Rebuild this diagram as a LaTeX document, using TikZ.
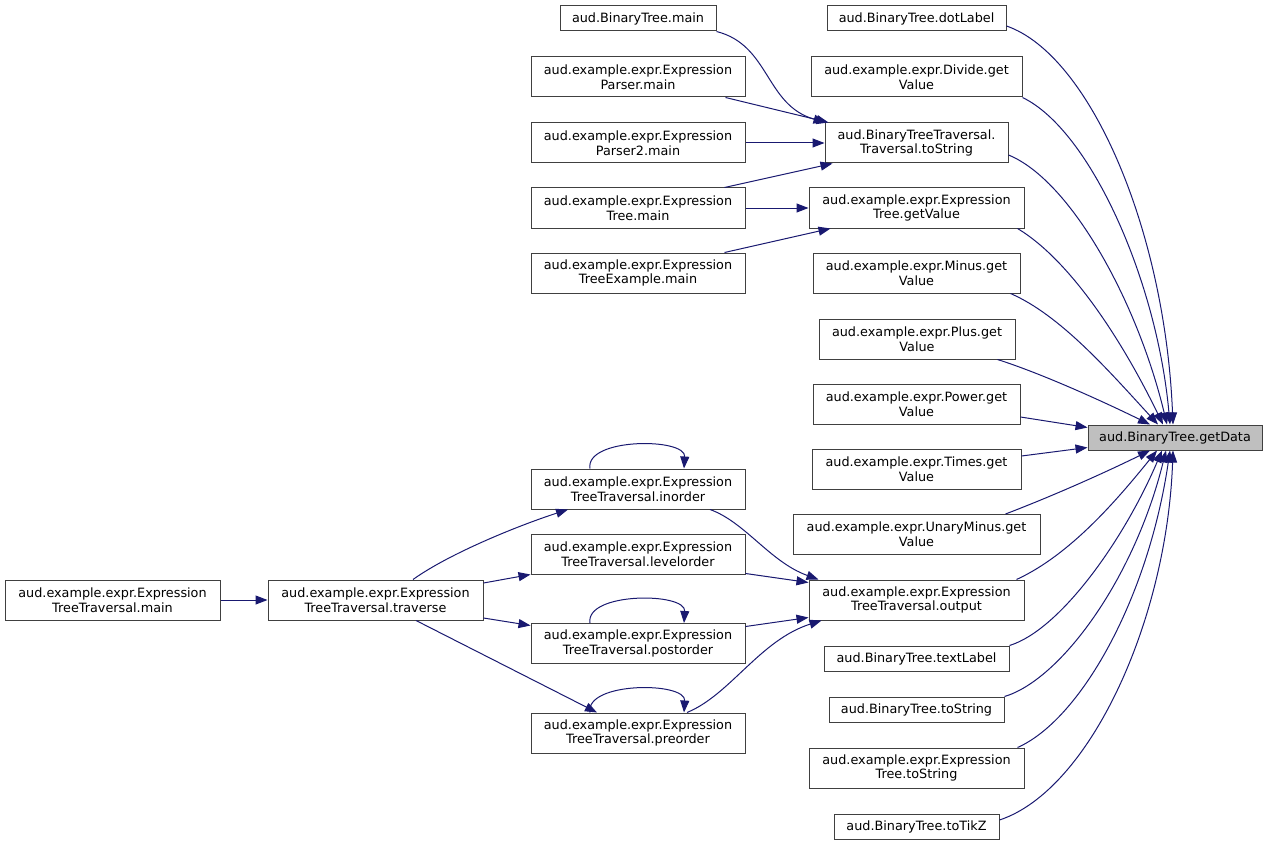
\documentclass[tikz,border=0pt]{standalone}
\usepackage{fontspec}
\setmainfont{DejaVu Sans}
\usetikzlibrary{arrows.meta}
\definecolor{edgec}{HTML}{191970}
\definecolor{boxc}{HTML}{404040}
\definecolor{hl}{HTML}{BFBFBF}
\begin{document}
\begin{tikzpicture}[x=1pt,y=-1pt,
 fn/.style={draw=boxc, line width=1pt, inner sep=0pt, align=center, fill=white,
   font=\fontsize{12.8}{14.7}\selectfont},
 one/.style={fn, minimum height=25pt, minimum width=#1},
 two/.style={fn, minimum height=40pt, minimum width=#1},
 e/.style={draw=edgec, line width=1pt, -{Triangle[length=12pt,width=9pt]}},
]
\useasboundingbox (0,0) rectangle (1268,845);
% target
\node[one=174pt, fill=hl] (gd) at (1175,437.5) {aud.BinaryTree.getData};
% right column
\node[one=179pt] (dot) at (916.5,18.5) {aud.BinaryTree.dotLabel};
\node[two=211pt] (div) at (916.5,77) {aud.example.expr.Divide.get\\Value};
\node[two=183pt] (tts) at (916.5,143) {aud.BinaryTreeTraversal.\\Traversal.toString};
\node[two=215pt] (etgv) at (916.5,208) {aud.example.expr.Expression\\Tree.getValue};
\node[two=207pt] (minus) at (916.5,273) {aud.example.expr.Minus.get\\Value};
\node[two=196pt] (plus) at (917,339) {aud.example.expr.Plus.get\\Value};
\node[two=207pt] (power) at (916.5,404) {aud.example.expr.Power.get\\Value};
\node[two=209pt] (times) at (916.5,469) {aud.example.expr.Times.get\\Value};
\node[two=247pt] (um) at (916.5,534.5) {aud.example.expr.UnaryMinus.get\\Value};
\node[two=215pt] (out) at (916.5,600) {aud.example.expr.Expression\\TreeTraversal.output};
\node[one=185pt] (tl) at (916.5,658.5) {aud.BinaryTree.textLabel};
\node[one=175pt] (bts) at (916.5,709.5) {aud.BinaryTree.toString};
\node[two=215pt] (ets) at (916.5,768) {aud.example.expr.Expression\\Tree.toString};
\node[one=165pt] (tikz) at (916.5,826.5) {aud.BinaryTree.toTikZ};
% middle column
\node[one=156pt] (btm) at (638,18.5) {aud.BinaryTree.main};
\node[two=214pt] (parser) at (638,77) {aud.example.expr.Expression\\Parser.main};
\node[two=214pt] (parser2) at (638,143) {aud.example.expr.Expression\\Parser2.main};
\node[two=214pt] (etmain) at (638,208) {aud.example.expr.Expression\\Tree.main};
\node[two=214pt] (etex) at (638,273) {aud.example.expr.Expression\\TreeExample.main};
\node[two=214pt] (ino) at (638,489) {aud.example.expr.Expression\\TreeTraversal.inorder};
\node[two=214pt] (lev) at (638,554) {aud.example.expr.Expression\\TreeTraversal.levelorder};
\node[two=214pt] (post) at (638,643.5) {aud.example.expr.Expression\\TreeTraversal.postorder};
\node[two=214pt] (pre) at (638,733) {aud.example.expr.Expression\\TreeTraversal.preorder};
% left
\node[two=215pt] (trav) at (375.5,600) {aud.example.expr.Expression\\TreeTraversal.traverse};
\node[two=215pt] (ettmain) at (112.5,600) {aud.example.expr.Expression\\TreeTraversal.main};

% edges into getData (top)
\draw[e] ([yshift=-7.5pt]dot.east) .. controls (1090,55) and (1165,230) .. ([xshift=-2pt]gd.north);
\draw[e] (div.south east) .. controls (1090,130) and (1157,280) .. ([xshift=-5pt]gd.north);
\draw[e] ([yshift=-12pt]tts.east) .. controls (1070,180) and (1137,300) .. ([xshift=-8pt]gd.north);
\draw[e] ([xshift=-7pt]etgv.south east) .. controls (1070,260) and (1122,340) .. ([xshift=-12pt]gd.north);
\draw[e] ([xshift=-10pt]minus.south east) .. controls (1060,315) and (1108,370) .. ([xshift=-17pt]gd.north);
\draw[e] ([xshift=-18pt]plus.south east) .. controls (1040,373) and (1100,400) .. ([xshift=-25pt]gd.north);
\draw[e] ([yshift=-13pt]power.east) -- ([yshift=10pt]gd.west);
\draw[e] ([yshift=13pt]times.east) -- ([yshift=-10pt]gd.west);
% edges into getData (bottom)
\draw[e] ([xshift=-35pt]um.north east) .. controls (1050,497) and (1100,475) .. ([xshift=-25pt]gd.south);
\draw[e] ([xshift=-8pt]out.north east) .. controls (1070,555) and (1117,500) .. ([xshift=-18pt]gd.south);
\draw[e] (tl.north east) .. controls (1060,630) and (1124,540) .. ([xshift=-13pt]gd.south);
\draw[e] (bts.north east) .. controls (1060,680) and (1134,580) .. ([xshift=-9pt]gd.south);
\draw[e] ([xshift=-7pt]ets.north east) .. controls (1080,720) and (1148,600) .. ([xshift=-5pt]gd.south);
\draw[e] ([yshift=6.5pt]tikz.east) .. controls (1090,790) and (1167,620) .. ([xshift=-2pt]gd.south);

% middle to right
\draw[e] (btm.south east) .. controls (770,45) and (765,105) .. ([xshift=1pt]tts.north west);
\draw[e] ([xshift=-20pt]parser.south east) -- ([xshift=4pt]tts.north west);
\draw[e] (parser2.east) -- (tts.west);
\draw[e] ([xshift=-21pt]etmain.north east) -- ([xshift=8pt]tts.south west);
\draw[e] (etmain.east) -- (etgv.west);
\draw[e] ([xshift=-21pt]etex.north east) -- ([xshift=22pt]etgv.south west);

% left part
\draw[e] (ettmain.east) -- (trav.west);
\draw[e] ([xshift=37.5pt]trav.north) .. controls (450,553) and (520,525) .. ([xshift=-70pt]ino.south);
\draw[e] ([yshift=17pt]trav.east) -- (lev.south west);
\draw[e] ([yshift=-18pt]trav.east) -- ([yshift=-2.5pt]post.north west);
\draw[e] ([xshift=40.5pt]trav.south) -- ([xshift=-41pt]pre.north);
% self loops
\draw[e] ([xshift=-48pt]ino.north) .. controls +(-5,-31) and +(2,-31) .. ([xshift=46pt]ino.north);
\draw[e] ([xshift=-48pt]post.north) .. controls +(-5,-31) and +(2,-31) .. ([xshift=46pt]post.north);
\draw[e] ([xshift=-48pt]pre.north) .. controls +(-5,-31) and +(2,-31) .. ([xshift=46pt]pre.north);
% traversals to output
\draw[e] ([xshift=72pt]ino.south) .. controls (745,522) and (770,562) .. ([xshift=10pt]out.north west);
\draw[e] ([yshift=1pt]lev.south east) -- ([yshift=-3pt]out.north west);
\draw[e] ([yshift=-3.5pt]post.north east) -- ([yshift=3pt]out.south west);
\draw[e] ([xshift=49pt]pre.north) .. controls (730,695) and (760,640) .. ([xshift=13pt]out.south west);
\end{tikzpicture}
\end{document}
